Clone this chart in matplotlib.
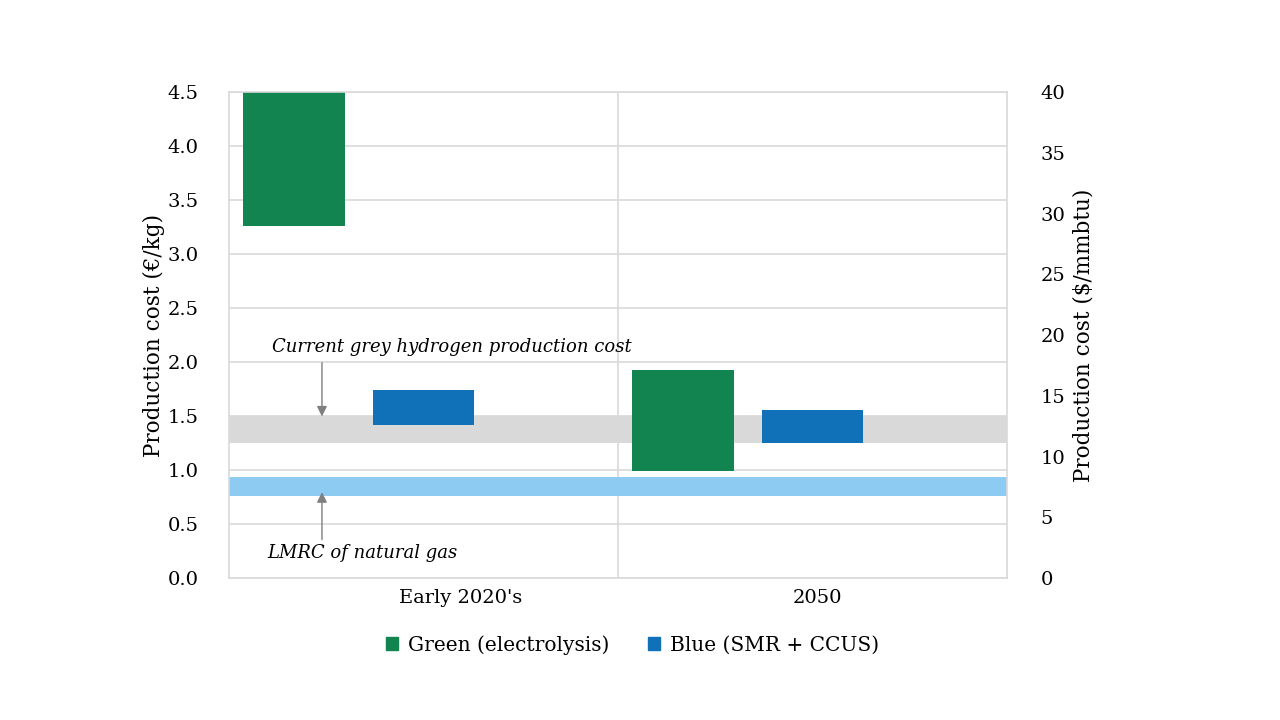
import matplotlib.pyplot as plt
from matplotlib.patches import Patch

plt.rcParams['font.family'] = ['DejaVu Serif']

# Data
categories = ["Early 2020's", "2050"]
green_low = [3.26, 0.99]
green_high = [4.5, 1.93]
blue_low = [1.42, 1.25]
blue_high = [1.74, 1.56]
grey_band = (1.25, 1.5)      # current grey hydrogen production cost
lmrc_band = (0.76, 0.935)    # LMRC of natural gas

c_green = '#12844f'
c_blue = '#1071b8'
c_grey = '#d9d9d9'
c_light = '#8ecbf2'
c_grid = '#d9d9d9'

fig = plt.figure(figsize=(12.8, 7.2), dpi=100)
ax = fig.add_axes([0.1789, 0.1972, 0.6078, 0.675])

x = list(range(len(categories)))
w = 0.26
ax.axhspan(*grey_band, color=c_grey, zorder=1, lw=0)
ax.axhspan(*lmrc_band, color=c_light, zorder=1, lw=0)
ax.bar([i - 0.333 for i in x], [h - l for h, l in zip(green_high, green_low)],
       bottom=green_low, width=w, color=c_green, zorder=2)
ax.bar(x, [h - l for h, l in zip(blue_high, blue_low)],
       bottom=blue_low, width=w, color=c_blue, zorder=2)

ax.set_xlim(-0.5, 1.5)
ax.set_ylim(0, 4.5)
ax.set_yticks([i * 0.5 for i in range(10)])
ax.set_yticklabels([f'{i * 0.5:.1f}' for i in range(10)])
# category labels sit slightly right of the bar groups, as in the source
ax.set_xticks([0.096, 1.013])
ax.set_xticklabels(categories)
ax.grid(axis='y', color=c_grid, lw=1.2, zorder=0)
ax.axvline(0.5, color=c_grid, lw=1.2, zorder=0)
for s in ax.spines.values():
    s.set_color(c_grid)
    s.set_linewidth(1.2)
ax.tick_params(axis='y', length=0, labelsize=14, pad=22)
ax.tick_params(axis='x', length=0, labelsize=14, pad=8)
ax.set_ylabel('Production cost (€/kg)', fontsize=15.5, labelpad=2)

ax2 = ax.twinx()
ax2.set_ylim(0, 40)
ax2.set_yticks(range(0, 41, 5))
for s in ax2.spines.values():
    s.set_visible(False)
ax2.tick_params(length=0, labelsize=14, pad=24)
ax2.set_ylabel('Production cost ($/mmbtu)', fontsize=15.5, labelpad=5)

# Annotations
arrow = dict(arrowstyle='-|>', color='#7f7f7f', lw=1, mutation_scale=15)
ax.annotate('', xy=(-0.261, 1.47), xytext=(-0.261, 2.02), arrowprops=arrow)
ax.text(0.073, 2.14, 'Current grey hydrogen production cost', ha='center', va='center',
        fontsize=13, style='italic')
ax.annotate('', xy=(-0.261, 0.82), xytext=(-0.261, 0.33), arrowprops=arrow)
ax.text(-0.158, 0.23, 'LMRC of natural gas', ha='center', va='center',
        fontsize=13, style='italic')

handles = [Patch(color=c_green, label='Green (electrolysis)'),
           Patch(color=c_blue, label='Blue (SMR + CCUS)')]
fig.legend(handles=handles, loc='center', bbox_to_anchor=(0.494, 0.104), ncol=2,
           frameon=False, fontsize=14.5, handlelength=0.6, handleheight=0.6,
           handletextpad=0.5, columnspacing=1.9)

plt.savefig('out.png', dpi=100)
